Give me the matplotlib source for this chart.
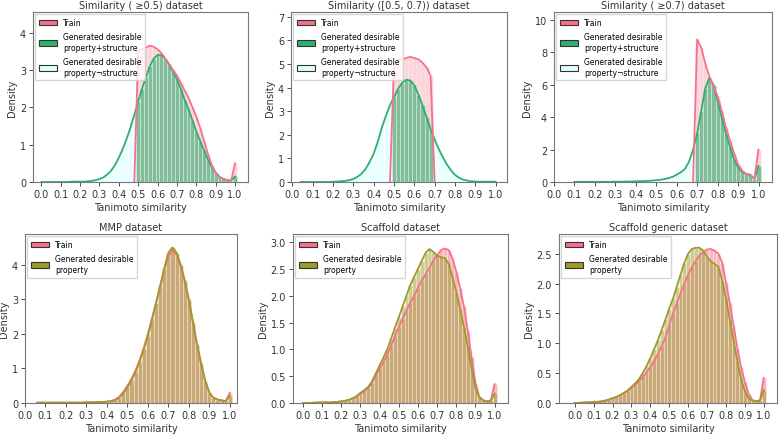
import numpy as np
import matplotlib
matplotlib.use("Agg")
from matplotlib import pyplot as plt
from matplotlib.patches import Patch

nan = np.nan
# bin centres, width 0.02
bins = np.round(np.arange(51) * 0.02, 2)

# --- Similarity (>=0.5) ---
sim05_gen = [0, 0, 0, 0, 0, 0, 0, 0, 0.01, 0.01,
             0.01, 0.01, 0.02, 0.03, 0.05, 0.08, 0.12, 0.2, 0.3, 0.45,
             0.65, 0.88, 1.15, 1.45, 1.8, 2.15, 2.5, 2.8, 3.1, 3.3,
             3.4, 3.4, 3.3, 3.15, 2.95, 2.75, 2.5, 2.2, 1.95, 1.65,
             1.35, 1.1, 0.85, 0.6, 0.4, 0.25, 0.14, 0.08, 0.05, 0.04,
             0.15]
sim05_train = [nan] * 24 + [0, 3.5, 3.55, 3.6, 3.65, 3.62,
               3.55, 3.45, 3.3, 3.15, 3.0, 2.85, 2.65, 2.45, 2.25, 2.0,
               1.75, 1.45, 1.1, 0.75, 0.45, 0.25, 0.12, 0.08, 0.05, 0.03,
               0.5]

# --- Similarity ([0.5, 0.7)) ---
sim0507_gen = [nan, nan, 0, 0, 0, 0, 0, 0, 0, 0,
               0.01, 0.02, 0.03, 0.05, 0.08, 0.13, 0.22, 0.35, 0.55, 0.85,
               1.2, 1.7, 2.3, 2.8, 3.25, 3.6, 3.95, 4.2, 4.33, 4.3,
               4.1, 3.7, 3.25, 2.75, 2.25, 1.8, 1.4, 1.05, 0.75, 0.5,
               0.3, 0.18, 0.1, 0.06, 0.03, 0.02, 0.01, 0.01, 0.01, 0.01,
               0.01]
sim0507_train = [nan] * 24 + [0, 5.0, 5.15, 5.2, 5.25, 5.3,
                 5.25, 5.2, 5.05, 4.85, 4.5, 0] + [nan] * 15

# --- Similarity (>=0.7) ---
sim07_gen = [nan, nan, nan, nan, nan, 0.01, 0.01, 0.01, 0.01, 0.01,
             0.01, 0.01, 0.01, 0.01, 0.01, 0.02, 0.02, 0.02, 0.03, 0.03,
             0.04, 0.05, 0.06, 0.07, 0.09, 0.11, 0.14, 0.18, 0.24, 0.32,
             0.45, 0.6, 0.8, 1.25, 2.0, 3.0, 4.4, 5.8, 6.45, 6.0,
             5.0, 4.0, 3.0, 2.2, 1.4, 0.9, 0.6, 0.5, 0.45, 0.2,
             1.0]
sim07_train = [nan] * 34 + [0, 8.8, 8.3, 7.3, 6.5, 5.9,
               5.3, 4.4, 3.4, 2.6, 1.8, 1.1, 0.7, 0.5, 0.4, 0.2,
               2.0]

# --- MMP ---
mmp_gen = [nan, nan, nan, 0.01, 0.01, 0.01, 0.01, 0.01, 0.01, 0.01,
           0.01, 0.01, 0.01, 0.01, 0.01, 0.02, 0.02, 0.02, 0.03, 0.03,
           0.04, 0.05, 0.08, 0.15, 0.28, 0.45, 0.65, 0.9, 1.2, 1.55,
           1.95, 2.4, 2.9, 3.4, 3.9, 4.35, 4.5, 4.35, 4.0, 3.55,
           3.0, 2.35, 1.7, 1.15, 0.65, 0.3, 0.15, 0.1, 0.08, 0.05,
           0.2]
mmp_train = [nan, nan, nan, 0.01, 0.01, 0.01, 0.01, 0.01, 0.01, 0.01,
             0.01, 0.01, 0.01, 0.01, 0.01, 0.02, 0.02, 0.02, 0.03, 0.03,
             0.04, 0.06, 0.1, 0.18, 0.32, 0.5, 0.7, 0.95, 1.25, 1.6,
             2.0, 2.45, 2.9, 3.35, 3.85, 4.25, 4.42, 4.3, 3.95, 3.5,
             2.95, 2.3, 1.65, 1.1, 0.62, 0.3, 0.15, 0.1, 0.08, 0.05,
             0.3]

# --- Scaffold ---
scaf_gen = [0, 0, 0, 0.01, 0.01, 0.01, 0.01, 0.01, 0.02, 0.02,
            0.03, 0.04, 0.06, 0.09, 0.13, 0.19, 0.24, 0.3, 0.4, 0.55,
            0.7, 0.85, 1.0, 1.2, 1.4, 1.6, 1.8, 2.0, 2.2, 2.35,
            2.5, 2.65, 2.8, 2.87, 2.82, 2.75, 2.72, 2.7, 2.6, 2.35,
            2.07, 1.75, 1.42, 1.05, 0.65, 0.28, 0.1, 0.05, 0.03, 0.03,
            0.18]
scaf_train = [0, 0, 0, 0, 0.01, 0.01, 0.01, 0.01, 0.01, 0.02,
              0.03, 0.04, 0.06, 0.08, 0.11, 0.17, 0.22, 0.28, 0.37, 0.5,
              0.63, 0.76, 0.9, 1.07, 1.25, 1.42, 1.57, 1.72, 1.87, 2.0,
              2.15, 2.28, 2.4, 2.52, 2.65, 2.75, 2.85, 2.88, 2.85, 2.7,
              2.45, 2.15, 1.8, 1.35, 0.85, 0.38, 0.12, 0.05, 0.03, 0.05,
              0.35]

# --- Scaffold generic ---
scafgen_gen = [0.0, 0.0, 0.01, 0.01, 0.01, 0.02, 0.02, 0.03, 0.04, 0.06,
               0.08, 0.1, 0.13, 0.17, 0.21, 0.27, 0.33, 0.4, 0.5, 0.62,
               0.75, 0.9, 1.05, 1.22, 1.4, 1.58, 1.75, 1.95, 2.15, 2.35,
               2.5, 2.58, 2.6, 2.6, 2.55, 2.45, 2.37, 2.33, 2.28, 2.05,
               1.75, 1.4, 1.05, 0.7, 0.4, 0.2, 0.08, 0.04, 0.03, 0.03,
               0.22]
scafgen_train = [0, 0, 0, 0.01, 0.01, 0.01, 0.01, 0.02, 0.03, 0.05,
                 0.08, 0.1, 0.13, 0.16, 0.2, 0.25, 0.3, 0.36, 0.43, 0.52,
                 0.6, 0.7, 0.82, 0.95, 1.1, 1.3, 1.5, 1.67, 1.83, 2.0,
                 2.15, 2.27, 2.38, 2.47, 2.53, 2.57, 2.58, 2.55, 2.5, 2.35,
                 2.02, 1.68, 1.3, 0.92, 0.6, 0.35, 0.15, 0.05, 0.03, 0.05,
                 0.42]

pink = '#f77189'
green = '#2fae6f'
cyan = '#e0ffff'
olive = '#9e9a2c'

plt.rcParams['font.family'] = ['DejaVu Sans']
fig = plt.figure(figsize=(7.79, 4.35), dpi=100)


def px_axes(l, r, t, b):
    W, H = 779, 435
    return fig.add_axes([l / W, 1 - b / H, (r - l) / W, (b - t) / H])


def style(ax, title, xlim, ylim):
    ax.set_title(title, fontsize=7, pad=3, color='#333333')
    ax.set_xlim(*xlim)
    ax.set_ylim(*ylim)
    ax.set_xticks(np.round(np.arange(0, 1.01, 0.1), 1))
    ax.tick_params(labelsize=7, length=3, width=0.6, colors='#333333', pad=2)
    ax.set_xlabel('Tanimoto similarity', fontsize=7, labelpad=2, color='#333333')
    ax.set_ylabel('Density', fontsize=7, labelpad=2, color='#333333')
    for s in ax.spines.values():
        s.set_color('#777777')
        s.set_linewidth(0.8)


def bars(ax, vals, color, alpha, mask=None):
    v = np.nan_to_num(np.array(vals, dtype=float))
    if mask is not None:
        v = np.where(mask, v, 0)
    ax.bar(bins, v, width=0.02, color=color, alpha=alpha,
           edgecolor='white', linewidth=0.4)


def add_legend(ax, handles, labels):
    ax.legend(handles, labels, loc='upper left', fontsize=5.5, frameon=True,
              edgecolor='#cccccc', handlelength=2.3, handleheight=0.8,
              borderpad=0.5, labelspacing=0.7, handletextpad=0.8,
              fancybox=False, borderaxespad=0.3)


top = [
    ('Similarity ( ≥0.5) dataset', sim05_gen, sim05_train, (bins >= 0.5), (-0.043, 1.067), (0, 4.55), (33, 248)),
    ('Similarity ([0.5, 0.7)) dataset', sim0507_gen, sim0507_train, (bins >= 0.5) & (bins < 0.7), (-0.007, 1.056), (0, 7.2), (291, 507)),
    ('Similarity ( ≥0.7) dataset', sim07_gen, sim07_train, (bins >= 0.7), (0.0, 1.066), (0, 10.5), (554, 772)),
]
for title, gen, train, inside, xl, yl, (l, r) in top:
    ax = px_axes(l, r, 13, 183)
    bars(ax, train, pink, 0.3)
    bars(ax, gen, cyan, 0.8, ~inside)
    bars(ax, gen, green, 0.6, inside)
    ax.plot(bins, gen, color=green, lw=1.3)
    ax.plot(bins, train, color=pink, lw=1.3)
    style(ax, title, xl, yl)
    handles = [Patch(facecolor=pink, edgecolor='#333333', lw=0.8),
               Patch(facecolor=green, edgecolor='#333333', lw=0.8),
               Patch(facecolor=cyan, edgecolor='#333333', lw=0.8)]
    labels = ['Train', 'Generated desirable\nproperty+structure',
              'Generated desirable\nproperty¬structure']
    add_legend(ax, handles, labels)

bottom = [
    ('MMP dataset', mmp_gen, mmp_train, (0.0, 1.035), (0, 4.89), (25, 237)),
    ('Scaffold dataset', scaf_gen, scaf_train, (-0.052, 1.07), (0, 3.15), (293, 508)),
    ('Scaffold generic dataset', scafgen_gen, scafgen_train, (-0.083, 1.07), (0, 2.83), (559, 777)),
]
for title, gen, train, xl, yl, (l, r) in bottom:
    ax = px_axes(l, r, 235, 404)
    bars(ax, train, pink, 0.5)
    bars(ax, gen, olive, 0.5)
    ax.plot(bins, train, color=pink, lw=1.3)
    ax.plot(bins, gen, color=olive, lw=1.3)
    style(ax, title, xl, yl)
    handles = [Patch(facecolor=pink, edgecolor='#333333', lw=0.8),
               Patch(facecolor=olive, edgecolor='#333333', lw=0.8)]
    labels = ['Train', 'Generated desirable\nproperty']
    add_legend(ax, handles, labels)

fig.savefig('out.png', dpi=100)
